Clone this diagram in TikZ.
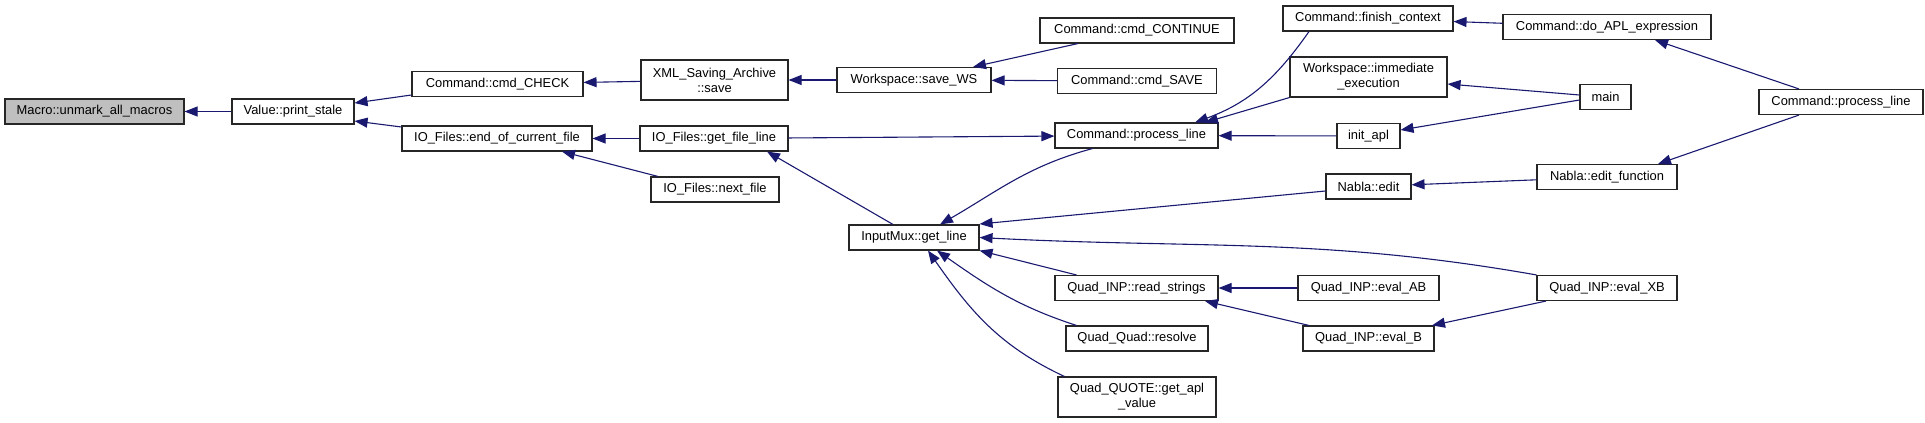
\documentclass[tikz,border=0pt]{standalone}
\usepackage{fontspec}
\setmainfont{Liberation Sans}
\usepackage{xcolor}
\usetikzlibrary{arrows.meta}

\definecolor{edgeblue}{HTML}{191970}
\definecolor{focusgray}{HTML}{BFBFBF}

\begin{document}
\begin{tikzpicture}[
    x=1pt, y=1pt,
    font=\fontsize{12.9}{15}\selectfont,
    % function box: thin dark border, white fill
    fn/.style={rectangle, draw=black!85, line width=1.1pt, fill=white, minimum height=25pt, inner sep=1pt, align=center},
    % caller -> callee edge
    call/.style={-{Triangle[length=13pt, width=10pt]}, line width=1.1pt, color=edgeblue}
]

\useasboundingbox (0,0) rectangle (1925,-423);

% =========================================================
% COLUMN 1-3: Macro, print_stale, first callers
% =========================================================
\node[fn, fill=focusgray, minimum width=179pt] (macro) at (94.5,-111.5) {Macro::unmark\_all\_macros};
\node[fn, minimum width=122pt] (stale) at (293,-111.5) {Value::print\_stale};

\node[fn, minimum width=171pt] (chk) at (497.5,-84) {Command::cmd\_CHECK};
\node[fn, minimum width=190pt] (eocf) at (497,-138.5) {IO\_Files::end\_of\_current\_file};

\node[fn, minimum width=147pt, minimum height=40pt] (xml) at (714.5,-80) {XML\_Saving\_Archive\\::save};
\node[fn, minimum width=148pt] (gfl) at (714,-138.5) {IO\_Files::get\_file\_line};
\node[fn, minimum width=128pt] (next) at (715,-189.5) {IO\_Files::next\_file};

% =========================================================
% COLUMN 4-5: Workspace, InputMux, Command, Quad
% =========================================================
\node[fn, minimum width=154pt] (ws) at (914,-80) {Workspace::save\_WS};
\node[fn, minimum width=130pt] (gl) at (914,-237.5) {InputMux::get\_line};

\node[fn, minimum width=194pt] (cont) at (1137,-30.5) {Command::cmd\_CONTINUE};
\node[fn, minimum width=159pt] (save) at (1137,-81) {Command::cmd\_SAVE};
\node[fn, minimum width=163pt] (pl) at (1136.5,-135.5) {Command::process\_line};
\node[fn, minimum width=163pt] (rs) at (1136.5,-288) {Quad\_INP::read\_strings};
\node[fn, minimum width=142pt] (resolve) at (1137,-338.5) {Quad\_Quad::resolve};
\node[fn, minimum width=158pt, minimum height=40pt] (quote) at (1137,-397) {Quad\_QUOTE::get\_apl\\\_value};

% =========================================================
% COLUMN 6-8: outer callers
% =========================================================
\node[fn, minimum width=170pt] (fin) at (1368,-18.5) {Command::finish\_context};
\node[fn, minimum width=157pt, minimum height=40pt] (imm) at (1368.5,-77) {Workspace::immediate\\\_execution};
\node[fn, minimum width=63pt] (init) at (1368.5,-136) {init\_apl};
\node[fn, minimum width=85pt] (edit) at (1368.5,-186.5) {Nabla::edit};
\node[fn, minimum width=141pt] (ab) at (1368.5,-288) {Quad\_INP::eval\_AB};
\node[fn, minimum width=131pt] (evb) at (1368.5,-338.5) {Quad\_INP::eval\_B};

\node[fn, minimum width=208pt] (doapl) at (1607,-27) {Command::do\_APL\_expression};
\node[fn, minimum width=51pt] (main) at (1605.5,-97) {main};
\node[fn, minimum width=140pt] (ef) at (1607,-177) {Nabla::edit\_function};
\node[fn, minimum width=140pt] (xb) at (1607,-288) {Quad\_INP::eval\_XB};

\node[fn, minimum width=164pt] (pl2) at (1841,-102) {Command::process\_line};

% =========================================================
% EDGES
% =========================================================
\draw[call] (stale) -- (macro);
\draw[call] ([yshift=-11]chk.west) -- ([yshift=8.5]stale.east);
\draw[call] ([yshift=11.5]eocf.west) -- ([yshift=-9.5]stale.east);

\draw[call] (xml) -- (chk);
\draw[call] (ws) -- (xml);
\draw[call] (gfl) -- (eocf);
\draw[call] ([xshift=-57]next.north) -- ([xshift=65]eocf.south);

\draw[call] ([xshift=-59]cont.south) -- ([xshift=59]ws.north);
\draw[call] (save) -- (ws);
\draw[call] ([xshift=-21]gl.north) -- ([xshift=53]gfl.south);
\draw[call] (gfl) -- (pl);
\draw[call] ([xshift=-44]pl.south) to[out=195, in=30] ([xshift=26]gl.north);

\draw[call] ([xshift=-59]fin.south) to[out=235, in=20] ([xshift=58.5]pl.north);
\draw[call] (imm.south west) -- ([xshift=68.5]pl.north);
\draw[call] (init) -- (pl);
\draw[call] (doapl) -- (fin);
\draw[call] ([xshift=-42]pl2.north) -- ([xshift=48]doapl.south);
\draw[call] ([yshift=2]main.west) -- ([yshift=-7]imm.east);
\draw[call] ([yshift=-3]main.west) -- ([yshift=6]init.east);

\draw[call] ([xshift=-42]pl2.south) -- ([xshift=51]ef.north);
\draw[call] (ef) -- (edit);
\draw[call] ([yshift=-4.5]edit.west) -- ([yshift=13.5]gl.east);
\draw[call] (xb.north west) to[out=170, in=-3] (gl.east);

\draw[call] ([xshift=22]rs.north west) -- (gl.south east);
\draw[call] ([xshift=11]resolve.north west) to[out=162, in=-35] ([xshift=23]gl.south);
\draw[call] ([xshift=7]quote.north west) to[out=155, in=-55] ([xshift=14]gl.south);

\draw[call] (ab) -- (rs);
\draw[call] ([xshift=-59.5]evb.north) -- ([xshift=68.5]rs.south);
\draw[call] ([xshift=-61]xb.south) -- ([xshift=63.5]evb.north);

\end{tikzpicture}
\end{document}
